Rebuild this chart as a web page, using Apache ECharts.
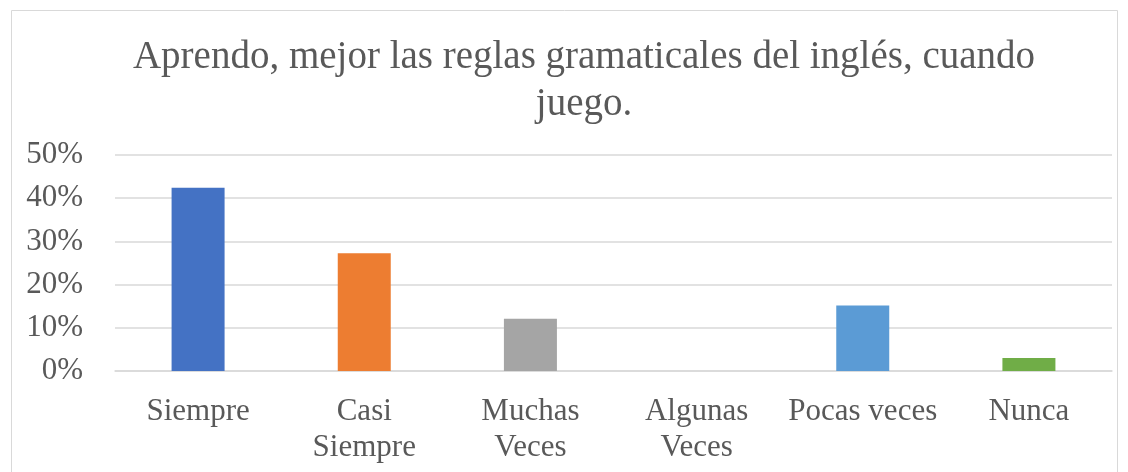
<!DOCTYPE html>
<html>
<head>
<meta charset="utf-8">
<script src="https://cdn.jsdelivr.net/npm/echarts@6/dist/echarts.min.js"></script>
<style>
  html, body { margin: 0; padding: 0; background: #fff; }
  #chart { width: 1128px; height: 472px; }
</style>
</head>
<body>
<div id="chart"></div>
<script>
// datos (33 respuestas)
const categories = ['Siempre', 'Casi\nSiempre', 'Muchas\nVeces', 'Algunas\nVeces', 'Pocas veces', 'Nunca']
const values = [42.42, 27.27, 12.12, 0, 15.15, 3.03]
const colors = ['#4472C4', '#ED7D31', '#A5A5A5', '#FFC000', '#5B9BD5', '#70AD47']
const titleText = 'Aprendo, mejor las reglas gramaticales del inglés, cuando\njuego.'

const chart = echarts.init(document.getElementById('chart'))
const font = '"Liberation Serif", "Times New Roman", serif'

chart.setOption({
  animation: false,
  graphic: [{
    type: 'rect',
    shape: { x: 11.5, y: 10.5, width: 1106, height: 480 },
    style: { fill: 'none', stroke: '#d9d9d9', lineWidth: 1 },
    silent: true
  }],
  title: {
    text: titleText,
    left: 579,
    top: 29,
    textAlign: 'center',
    textStyle: {
      fontFamily: font,
      fontSize: 39,
      fontWeight: 'normal',
      color: '#595959',
      lineHeight: 47
    }
  },
  grid: {
    left: 115,
    right: 16,
    top: 155,
    bottom: 101,
    containLabel: false
  },
  xAxis: {
    type: 'category',
    data: categories,
    axisTick: { show: false },
    axisLine: { show: true, lineStyle: { color: '#d9d9d9', width: 1.5 } },
    axisLabel: {
      fontFamily: font,
      fontSize: 31,
      color: '#595959',
      lineHeight: 36,
      margin: 23,
      interval: 0
    }
  },
  yAxis: {
    type: 'value',
    min: 0,
    max: 50,
    interval: 10,
    axisLine: { show: false },
    axisTick: { show: false },
    splitLine: { lineStyle: { color: '#d9d9d9', width: 1.5 } },
    axisLabel: {
      fontFamily: font,
      fontSize: 31,
      color: '#595959',
      margin: 32,
      formatter: '{value}%'
    }
  },
  series: [{
    type: 'bar',
    barWidth: 53,
    data: values.map((v, i) => ({ value: v, itemStyle: { color: colors[i] } }))
  }]
})
</script>
</body>
</html>
